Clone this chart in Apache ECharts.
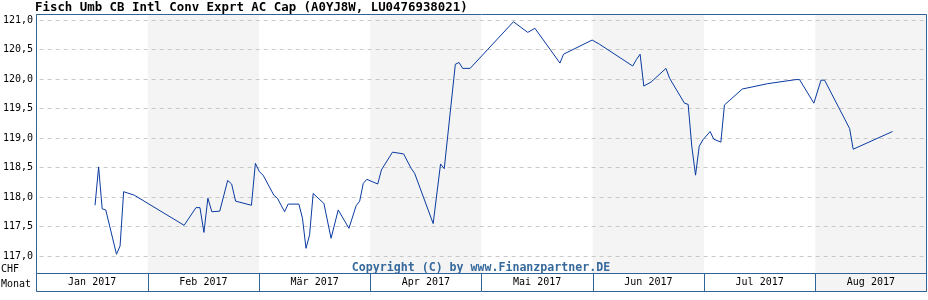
<!DOCTYPE html>
<html>
<head>
<meta charset="utf-8">
<script src="https://cdn.jsdelivr.net/npm/echarts@6/dist/echarts.min.js"></script>
<style>
html,body{margin:0;padding:0;background:#fff;}
#chart{width:928px;height:300px;}
</style>
</head>
<body>
<div id="chart"></div>
<script>
var title = 'Fisch Umb CB Intl Conv Exprt AC Cap (A0YJ8W, LU0476938021)';
var months = ['Jan 2017','Feb 2017','Mär 2017','Apr 2017','Mai 2017','Jun 2017','Jul 2017','Aug 2017'];
var yTicks = [117.0,117.5,118.0,118.5,119.0,119.5,120.0,120.5,121.0];
var dates = [
 '2017-01-16','2017-01-17','2017-01-18','2017-01-19','2017-01-22','2017-01-23','2017-01-24','2017-01-25','2017-01-27',
 '2017-02-09','2017-02-12','2017-02-13','2017-02-14','2017-02-15','2017-02-16','2017-02-18','2017-02-20','2017-02-21','2017-02-22','2017-02-26','2017-02-27','2017-02-28',
 '2017-03-01','2017-03-04','2017-03-05','2017-03-07','2017-03-08','2017-03-11','2017-03-12','2017-03-13','2017-03-14','2017-03-15','2017-03-18','2017-03-20','2017-03-22','2017-03-25','2017-03-27','2017-03-28','2017-03-29','2017-03-30',
 '2017-04-02','2017-04-03','2017-04-06','2017-04-09','2017-04-11','2017-04-12','2017-04-17','2017-04-19','2017-04-20','2017-04-23','2017-04-24','2017-04-25','2017-04-27',
 '2017-05-09','2017-05-13','2017-05-15','2017-05-22','2017-05-23','2017-05-31',
 '2017-06-02','2017-06-11','2017-06-12','2017-06-13','2017-06-14','2017-06-16','2017-06-20','2017-06-21','2017-06-25','2017-06-26','2017-06-27','2017-06-28','2017-06-29','2017-06-30',
 '2017-07-02','2017-07-03','2017-07-05','2017-07-06','2017-07-11','2017-07-18','2017-07-26','2017-07-27','2017-07-31',
 '2017-08-02','2017-08-03','2017-08-10','2017-08-11','2017-08-22'
];
var values = [
 117.86,118.51,117.80,117.78,117.03,117.17,118.09,118.07,118.03,
 117.52,117.82,117.82,117.40,117.98,117.75,117.76,118.28,118.22,117.93,117.86,118.57,118.43,
 118.37,118.03,117.98,117.75,117.88,117.88,117.64,117.13,117.36,118.06,117.89,117.30,117.78,117.47,117.85,117.93,118.23,118.30,
 118.22,118.46,118.76,118.73,118.49,118.40,117.55,118.56,118.48,120.25,120.28,120.18,120.18,
 120.97,120.79,120.86,120.27,120.42,120.66,
 120.59,120.22,120.33,120.42,119.88,119.95,120.18,120.01,119.59,119.57,118.85,118.37,118.86,118.97,
 119.11,118.98,118.93,119.56,119.83,119.92,119.99,119.99,119.59,
 119.98,119.98,119.16,118.81,119.11
];

var daysInMonth = [31,28,31,30,31,30,31,31];
function monthPos(s){
  var p = s.split('-');
  var m = parseInt(p[1],10) - 1, d = parseInt(p[2],10);
  return m + (d - 0.5) / daysInMonth[m];
}
var seriesData = dates.map(function(d,i){ return [monthPos(d), values[i]]; });

var frame = '#2f6399';
var mono = 'DejaVu Sans Mono';
var chart = echarts.init(document.getElementById('chart'), null, {renderer:'canvas'});
chart.setOption({
  animation:false,
  backgroundColor:'#ffffff',
  grid:[
    {left:36.5, right:1.5, top:14.5, height:259, show:true, z:2, borderColor:frame, borderWidth:1, backgroundColor:'transparent'},
    {left:36.5, right:1.5, top:20, height:236, show:false},
    {left:36.5, right:1.5, top:273.5, height:18, show:true, z:2, borderColor:frame, borderWidth:1, backgroundColor:'transparent'}
  ],
  xAxis:[
    {gridIndex:0, type:'value', min:0, max:months.length, interval:1, z:0,
     axisLine:{show:false}, axisTick:{show:false}, axisLabel:{show:false}, splitLine:{show:false},
     splitArea:{show:true, areaStyle:{color:['#ffffff','#f4f4f4']}}},
    {gridIndex:1, type:'value', min:0, max:months.length, interval:1, show:false},
    {gridIndex:2, type:'category', data:months, boundaryGap:true, z:0,
     axisLine:{show:false}, axisTick:{show:false},
     axisLabel:{interval:0, margin:-9, verticalAlign:'middle', fontFamily:mono, fontSize:10, color:'#000'},
     splitLine:{show:true, interval:0, lineStyle:{color:frame, width:1}},
     splitArea:{show:true, interval:0, areaStyle:{color:['#ffffff','#ffffff','#ffffff','#ffffff','#ffffff','#ffffff','#ffffff','#f4f4f4']}}}
  ],
  yAxis:[
    {gridIndex:0, type:'value', min:0, max:1, show:false},
    {gridIndex:1, type:'value', min:yTicks[0], max:yTicks[yTicks.length-1], interval:0.5, z:3,
     axisLine:{show:false}, axisTick:{show:false},
     axisLabel:{margin:6.5, fontFamily:mono, fontSize:10, color:'#000',
       formatter:function(v){ return v.toFixed(1).replace('.',','); }},
     splitLine:{show:true, lineStyle:{color:'#c8c8c8', type:[4,4], width:1}}},
    {gridIndex:2, type:'value', show:false}
  ],
  series:[
    {type:'line', xAxisIndex:1, yAxisIndex:1, data:seriesData, showSymbol:false, symbol:'none',
     lineStyle:{color:'#0a3aa0', width:1}, z:5, silent:true}
  ],
  graphic:[
    {type:'text', left:35, top:2, z:10, style:{text:title, font:'bold 12.4px "DejaVu Sans Mono"', fill:'#000'}},
    {type:'text', left:1, top:264, z:10, style:{text:'CHF', font:'10px "DejaVu Sans Mono"', fill:'#000'}},
    {type:'text', left:1, top:279, z:10, style:{text:'Monat', font:'10px "DejaVu Sans Mono"', fill:'#000'}},
    {type:'text', x:481, y:268, z:10, style:{text:'Copyright (C) by www.Finanzpartner.DE', font:'bold 11.6px "DejaVu Sans Mono"', fill:'#36699c', align:'center', verticalAlign:'middle'}}
  ]
});
</script>
</body>
</html>
